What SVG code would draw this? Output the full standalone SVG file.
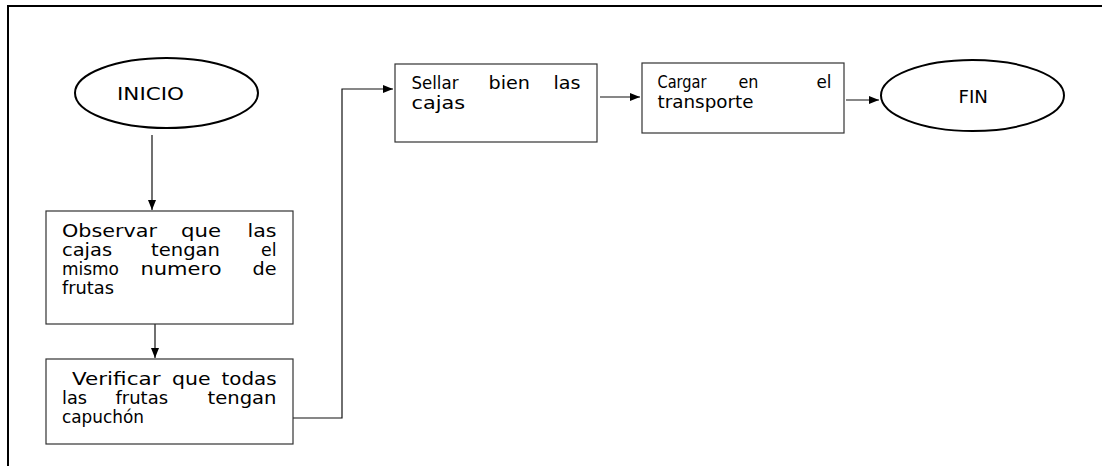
<svg xmlns="http://www.w3.org/2000/svg" width="1102" height="466" viewBox="0 0 1102 466">
  <style>
    .frame { fill: none; stroke: #000; stroke-width: 2; }
    .term { fill: #fff; stroke: #000; stroke-width: 2; }
    .box { fill: #fff; stroke: #333; stroke-width: 1.2; }
    .wire { fill: none; stroke: #111; stroke-width: 1.2; }
    text { font-family: "DejaVu Sans", "Liberation Sans", sans-serif; font-size: 17px; fill: #000; }
  </style>
  <defs>
    <marker id="head" viewBox="0 0 10 8" refX="10" refY="4" markerWidth="10" markerHeight="8" markerUnits="userSpaceOnUse" orient="auto">
      <path d="M0,0 L10,4 L0,8 z" fill="#000"/>
    </marker>
  </defs>
  <rect width="1102" height="466" fill="#fff"/>

  <!-- page frame: top and left edges -->
  <path class="frame" d="M8,466 V6 H1102"/>

  <g id="connectors">
    <path class="wire" d="M152,135 V210" marker-end="url(#head)"/>
    <path class="wire" d="M155,324 V358" marker-end="url(#head)"/>
    <path class="wire" d="M293,418 H342 V89 H393" marker-end="url(#head)"/>
    <path class="wire" d="M600,97 H640" marker-end="url(#head)"/>
    <path class="wire" d="M846,100 H879" marker-end="url(#head)"/>
  </g>

  <g id="inicio">
    <ellipse class="term" cx="166.5" cy="93" rx="91.5" ry="35"/>
    <text x="117" y="100" textLength="67" lengthAdjust="spacingAndGlyphs">INICIO</text>
  </g>

  <g id="observar">
    <rect class="box" x="46" y="211" width="247" height="113"/>
    <text x="62" y="237" textLength="95" lengthAdjust="spacingAndGlyphs">Observar</text>
    <text x="181" y="237" textLength="40" lengthAdjust="spacingAndGlyphs">que</text>
    <text x="247.5" y="237" textLength="29" lengthAdjust="spacingAndGlyphs">las</text>
    <text x="62" y="256" textLength="50" lengthAdjust="spacingAndGlyphs">cajas</text>
    <text x="151" y="256" textLength="69" lengthAdjust="spacingAndGlyphs">tengan</text>
    <text x="261" y="256" textLength="15.5" lengthAdjust="spacingAndGlyphs">el</text>
    <text x="62" y="275" textLength="57" lengthAdjust="spacingAndGlyphs">mismo</text>
    <text x="140.5" y="275" textLength="81" lengthAdjust="spacingAndGlyphs">numero</text>
    <text x="252.5" y="275" textLength="24" lengthAdjust="spacingAndGlyphs">de</text>
    <text x="62" y="294" textLength="52" lengthAdjust="spacingAndGlyphs">frutas</text>
  </g>

  <g id="verificar">
    <rect class="box" x="46" y="359" width="247" height="85"/>
    <text x="72" y="385" textLength="88.5" lengthAdjust="spacingAndGlyphs">Verificar</text>
    <text x="172" y="385" textLength="38.5" lengthAdjust="spacingAndGlyphs">que</text>
    <text x="221.5" y="385" textLength="55" lengthAdjust="spacingAndGlyphs">todas</text>
    <text x="62" y="404" textLength="25" lengthAdjust="spacingAndGlyphs">las</text>
    <text x="115.5" y="404" textLength="52.5" lengthAdjust="spacingAndGlyphs">frutas</text>
    <text x="207.5" y="404" textLength="69" lengthAdjust="spacingAndGlyphs">tengan</text>
    <text x="62" y="423" textLength="82" lengthAdjust="spacingAndGlyphs">capuchón</text>
  </g>

  <g id="sellar">
    <rect class="box" x="395" y="64" width="202" height="78"/>
    <text x="411.5" y="89" textLength="47" lengthAdjust="spacingAndGlyphs">Sellar</text>
    <text x="488.5" y="89" textLength="41.5" lengthAdjust="spacingAndGlyphs">bien</text>
    <text x="553.5" y="89" textLength="27" lengthAdjust="spacingAndGlyphs">las</text>
    <text x="411.5" y="109" textLength="53.5" lengthAdjust="spacingAndGlyphs">cajas</text>
  </g>

  <g id="cargar">
    <rect class="box" x="642" y="63" width="202" height="70"/>
    <text x="657.5" y="88" textLength="49" lengthAdjust="spacingAndGlyphs">Cargar</text>
    <text x="738.5" y="88" textLength="20" lengthAdjust="spacingAndGlyphs">en</text>
    <text x="816.5" y="88" textLength="15" lengthAdjust="spacingAndGlyphs">el</text>
    <text x="657.5" y="108" textLength="96" lengthAdjust="spacingAndGlyphs">transporte</text>
  </g>

  <g id="fin">
    <ellipse class="term" cx="972.5" cy="95.5" rx="91.5" ry="35.5"/>
    <text x="958.5" y="103" textLength="29.5" lengthAdjust="spacingAndGlyphs">FIN</text>
  </g>
</svg>
